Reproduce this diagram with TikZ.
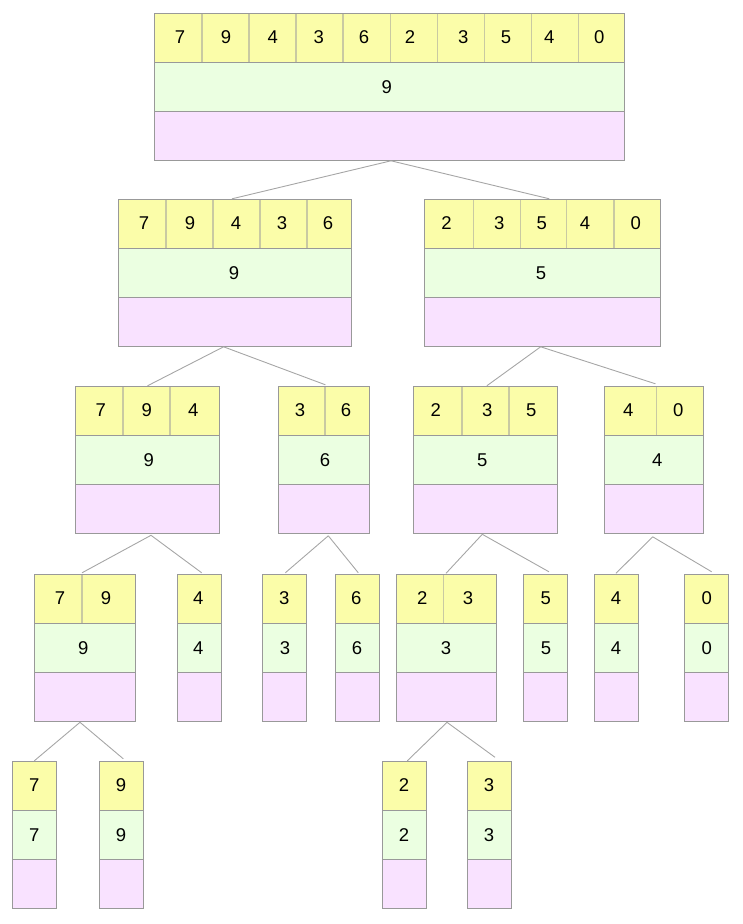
\documentclass[tikz,border=0pt]{standalone}
\usepackage{fontspec}
\setmainfont{Liberation Sans}
\definecolor{yel}{HTML}{FBFDA9}
\definecolor{grn}{HTML}{EBFFE1}
\definecolor{pnk}{HTML}{F9E2FF}
\definecolor{framegray}{HTML}{999999}
\definecolor{divgray}{HTML}{C9C9A2}
\definecolor{linkgray}{HTML}{A6A6A6}
\tikzset{
  boxframe/.style={draw=framegray, line width=1pt, inner sep=0pt, fill=none},
  rowline/.style={draw=framegray, line width=1pt},
  cellsep/.style={draw=divgray, line width=1.2pt},
  dig/.style={inner sep=0pt, text height=13.25pt, text depth=0pt, font=\fontsize{18.5}{20}\selectfont},
  link/.style={draw=linkgray, line width=0.9pt}
}
\newcommand\tbox[5]{%
  \fill[yel] (#2,#4) rectangle (#3,#4+49);
  \fill[grn] (#2,#4+49) rectangle (#3,#4+98);
  \fill[pnk] (#2,#4+98) rectangle (#3,#4+147);
  \if\relax\detokenize{#5}\relax\else
    \foreach \d in {#5} {\draw[cellsep] (\d,#4) -- (\d,#4+50);}
  \fi
  \draw[rowline] (#2,#4+49) -- (#3,#4+49) (#2,#4+98) -- (#3,#4+98);
  \node[boxframe, minimum width={#3-#2}, minimum height=147] (#1) at ({(#2+#3)/2},{#4+73.5}) {};
}
\newcommand\digs[5]{% name, top, list x/v, green x, green v
  \foreach \x/\v [count=\i] in {#3} {\node[dig] (#1-\i) at (\x,{#2+23.3}) {\v};}
  \node[dig] (#1-g) at (#4,{#2+73.3}) {#5};
}
\newcommand\edge[6]{%
  \draw[link] ([shift={(#2,#3)}]#1.south) -- ([shift={(#5,#6)}]#4.north);
}
\begin{document}
\begin{tikzpicture}[x=1pt,y=-1pt]
\useasboundingbox (0,0) rectangle (742,924);
% level 0
\tbox{n0}{154.3}{624.3}{13.3}{202,249,296,343,390.3,437.3,484.3,531.3,578.3}
\digs{n0}{13.3}{180/7,226/9,272.7/4,318.7/3,364/6,410/2,463.3/3,506/5,549.3/4,599.3/0}{386.7}{9}
% level 1
\tbox{n1a}{118.2}{351.8}{199.3}{166,213,260,307}
\digs{n1a}{199.3}{143.9/7,190/9,236/4,282/3,327.9/6}{234}{9}
\tbox{n1b}{424.3}{660.4}{199.3}{473.2,520.4,566.8,613.9}
\digs{n1b}{199.3}{446.4/2,499.3/3,541.8/5,585/4,635.7/0}{541}{5}
% level 2
\tbox{n2a}{75.3}{219.3}{386.3}{123,170}
\digs{n2a}{386.3}{100.7/7,146.7/9,193.3/4}{148.7}{9}
\tbox{n2b}{278.3}{369.7}{386.3}{325}
\digs{n2b}{386.3}{300/3,346/6}{325}{6}
\tbox{n2c}{413.3}{557.3}{386.3}{462,509}
\digs{n2c}{386.3}{435.7/2,487.3/3,531.3/5}{482.3}{5}
\tbox{n2d}{604.3}{703.3}{386.3}{656.7}
\digs{n2d}{386.3}{628.3/4,678.3/0}{657.3}{4}
% level 3
\tbox{n3a}{34.3}{135}{574.3}{82}
\digs{n3a}{574.3}{60/7,106/9}{83.3}{9}
\tbox{n3b}{177.3}{221.3}{574.3}{}
\digs{n3b}{574.3}{198.3/4}{198.3}{4}
\tbox{n3c}{262.3}{306.3}{574.3}{}
\digs{n3c}{574.3}{284.3/3}{285}{3}
\tbox{n3d}{335}{379}{574.3}{}
\digs{n3d}{574.3}{356.3/6}{357}{6}
\tbox{n3e}{396.3}{496.7}{574.3}{443.7}
\digs{n3e}{574.3}{422.3/2,468/3}{446}{3}
\tbox{n3f}{523.7}{567.3}{574.3}{}
\digs{n3f}{574.3}{545.7/5}{546}{5}
\tbox{n3g}{594.3}{638.3}{574.3}{}
\digs{n3g}{574.3}{616/4}{616}{4}
\tbox{n3h}{684.7}{728.3}{574.3}{}
\digs{n3h}{574.3}{706.7/0}{706.7}{0}
% level 4
\tbox{n4a}{12.7}{56.7}{761.3}{}
\digs{n4a}{761.3}{34.3/7}{34.3}{7}
\tbox{n4b}{99.7}{143.3}{761.3}{}
\digs{n4b}{761.3}{121/9}{121}{9}
\tbox{n4c}{382.7}{426.3}{761.3}{}
\digs{n4c}{761.3}{404/2}{404}{2}
\tbox{n4d}{467.7}{511.7}{761.3}{}
\digs{n4d}{761.3}{489/3}{489}{3}
% connectors
\edge{n0}{1.7}{0}{n1a}{-3}{0}
\edge{n0}{1.7}{0}{n1b}{7}{0}
\edge{n1a}{-11.4}{0}{n2a}{0.2}{0}
\edge{n1a}{-11.4}{0}{n2b}{1.4}{-1}
\edge{n1b}{-1.7}{0}{n2c}{1.5}{0}
\edge{n1b}{-1.7}{0}{n2d}{1.7}{-2}
\edge{n2a}{3.7}{1.5}{n3a}{-2.65}{-1}
\edge{n2a}{3.7}{1.5}{n3b}{2.4}{-1}
\edge{n2b}{4.3}{2}{n3c}{1}{-1}
\edge{n2b}{4.3}{2}{n3d}{1.3}{-1}
\edge{n2c}{-3}{0.5}{n3e}{-0.5}{-0.5}
\edge{n2c}{-3}{0.5}{n3f}{3.5}{-2}
\edge{n2d}{-1.1}{3}{n3g}{-0.3}{-0.5}
\edge{n2d}{-1.1}{3}{n3h}{5.2}{-2}
\edge{n3a}{-4.65}{0.5}{n4a}{-0.4}{0}
\edge{n3a}{-4.65}{0.5}{n4b}{1.8}{-2}
\edge{n3e}{0.5}{0.5}{n4c}{2.8}{0}
\edge{n3e}{0.5}{0.5}{n4d}{5.3}{-3.5}
\end{tikzpicture}
\end{document}
